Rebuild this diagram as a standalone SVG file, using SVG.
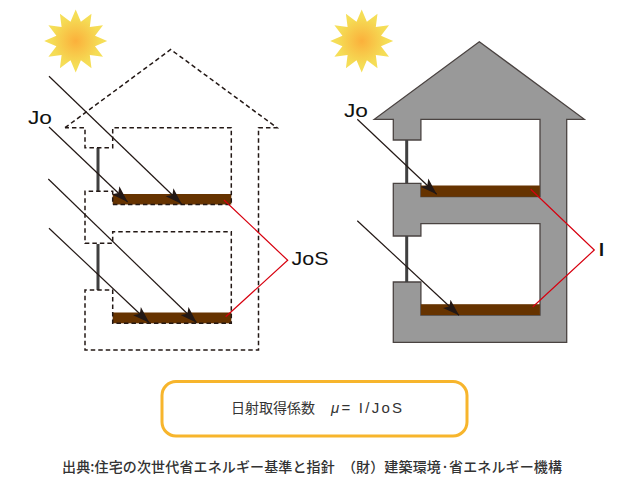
<svg xmlns="http://www.w3.org/2000/svg" width="637" height="500" viewBox="0 0 637 500">
<style>
.dash{fill:none;stroke:#231815;stroke-width:1.5;stroke-dasharray:4.5 3}
.bar{fill:none;stroke:#404040;stroke-width:3}
.slab{fill:#663300}
.ray{fill:none;stroke:#231815;stroke-width:1.2;marker-end:url(#ah)}
.red{fill:none;stroke:#d7000f;stroke-width:1.2}
.wall{fill:#999;stroke:#4a4341;stroke-width:1.3}
.t{font-family:"Liberation Sans","Noto Sans CJK JP",sans-serif;fill:#111}
.j{font-family:"Noto Sans CJK JP","Liberation Sans",sans-serif;fill:#333}
</style>
<defs>
<radialGradient id="sg"><stop offset="0" stop-color="#fbb03b"/><stop offset="0.75" stop-color="#f5dc55"/><stop offset="1" stop-color="#f6e05a"/></radialGradient>
<marker id="ah" markerUnits="userSpaceOnUse" markerWidth="18" markerHeight="12" refX="15" refY="5" orient="auto" viewBox="0 0 16 10"><path d="M0 0L15 5L0 10L3.5 5Z" fill="#231815"/></marker>
<polygon id="sun" fill="url(#sg)" points="0,-31.5 5.2,-19.3 15.8,-27.3 14.1,-14.1 27.3,-15.8 19.3,-5.2 31.5,0 19.3,5.2 27.3,15.8 14.1,14.1 15.8,27.3 5.2,19.3 0,31.5 -5.2,19.3 -15.8,27.3 -14.1,14.1 -27.3,15.8 -19.3,5.2 -31.5,0 -19.3,-5.2 -27.3,-15.8 -14.1,-14.1 -15.8,-27.3 -5.2,-19.3"/>
</defs>
<g id="sun-left"><use href="#sun" x="75.7" y="41"/></g>
<g id="sun-right"><use href="#sun" x="361.7" y="41"/></g>
<g id="house-left">
<rect class="slab" x="112.7" y="194" width="118.6" height="10.5"/>
<rect class="slab" x="112.7" y="312.5" width="118.6" height="10.8"/>
<path class="bar" d="M98 148V191M98 244V290"/>
<path class="dash" d="M65 127.7L170.7 49.5L277 127.7H258.5V350H85V290H112.7V323.3H231.3V231.7H112.7V243.3H85V191.3H112.7V204.5H231.3V127.7H112.7V147.7H85V127.7H65"/>
</g>
<g id="house-right">
<path class="wall" d="M479.3 41.7L584.3 119.3H566.7V342.3H393.3V282H420.9V315H540V223.7H420.9V236H393.3V183.3H420.9V196.7H540V119.3H420.9V140H393.3V119.3H374.3Z"/>
<rect class="slab" x="420.9" y="185.5" width="119" height="11.2"/>
<rect class="slab" x="420.9" y="304.2" width="119" height="10.8"/>
<path class="bar" d="M406.7 140V183M406.7 236V282"/>
</g>
<g id="connectors">
<path class="ray" d="M49 76.3L181.7 204"/>
<path class="ray" d="M49 127L127.7 202"/>
<path class="ray" d="M48.3 179L196.7 322.7"/>
<path class="ray" d="M49 228.3L149.3 322.7"/>
<path class="ray" d="M357.3 119.3L436.7 194.3"/>
<path class="ray" d="M357.3 220.7L459 315.3"/>
<path class="red" d="M224 200L287.7 260.3L225.7 316.7"/>
<path class="red" d="M530.7 189.3L594.3 250L532.7 307"/>
</g>
<g id="labels">
<text class="t" x="28" y="124" font-size="19" textLength="24" lengthAdjust="spacingAndGlyphs">Jo</text>
<text class="t" x="291.5" y="265" font-size="19" textLength="37" lengthAdjust="spacingAndGlyphs">JoS</text>
<text class="t" x="344" y="117" font-size="19" textLength="24" lengthAdjust="spacingAndGlyphs">Jo</text>
<text class="t" x="599" y="256" font-size="18" font-weight="700">I</text>
</g>
<g id="formula">
<rect x="162" y="381.5" width="305" height="54.5" rx="14" fill="#fff" stroke="#f7b52c" stroke-width="3"/>
<text class="j" x="231" y="413" font-size="14">日射取得係数</text>
<text class="t" x="331" y="413" font-size="15" textLength="71" lengthAdjust="spacing" style="fill:#333"><tspan font-style="italic">μ</tspan>= I/JoS</text>
</g>
<text id="source" class="j" x="62" y="472" font-size="14" font-weight="500" textLength="500">出典:住宅の次世代省エネルギー基準と指針　（財）建築環境·省エネルギー機構</text>
</svg>
